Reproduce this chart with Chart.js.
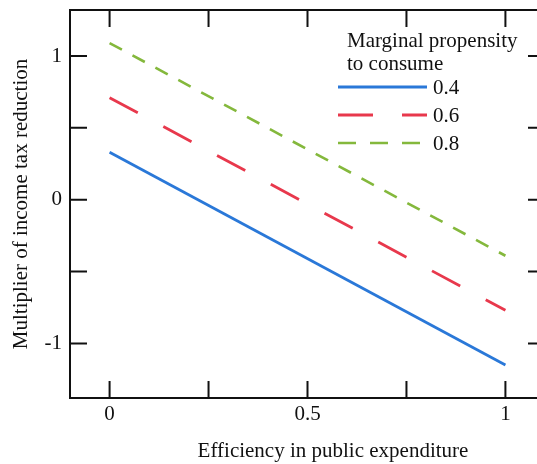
<!DOCTYPE html>
<html>
<head>
<meta charset="utf-8">
<script src="https://cdn.jsdelivr.net/npm/chart.js@4"></script>
<style>
  body { margin: 0; background: #fff; overflow: hidden; }
</style>
</head>
<body>
<canvas id="chart" width="560" height="464"></canvas>
<script>
const efficiency = [0, 1];
const mpc04 = [0.33, -1.15];
const mpc06 = [0.71, -0.77];
const mpc08 = [1.09, -0.39];
const seriesNames = ["0.4", "0.6", "0.8"];

const xTicks = [0, 0.25, 0.5, 0.75, 1];
const xTickLabels = ["0", "0.5", "1"];
const yTicks = [-1, -0.5, 0, 0.5, 1];
const yTickLabels = ["-1", "0", "1"];

const serif = "'Liberation Serif', 'Times New Roman', serif";
const fontSize = 21;

const toPoints = (ys) => efficiency.map((x, i) => ({ x: x, y: ys[i] }));

// frame with inward ticks on all four sides
const framePlugin = {
  id: "frame",
  afterDraw(chart) {
    const ctx = chart.ctx;
    const a = chart.chartArea;
    const xs = chart.scales.x;
    const ys = chart.scales.y;
    const len = 17;
    ctx.save();
    ctx.strokeStyle = "#111";
    ctx.lineWidth = 2;
    ctx.strokeRect(a.left, a.top, a.right - a.left, a.bottom - a.top);
    ctx.beginPath();
    xTicks.forEach((v) => {
      const px = xs.getPixelForValue(v);
      ctx.moveTo(px, a.bottom);
      ctx.lineTo(px, a.bottom - len);
      ctx.moveTo(px, a.top);
      ctx.lineTo(px, a.top + len);
    });
    yTicks.forEach((v) => {
      const py = ys.getPixelForValue(v);
      ctx.moveTo(a.left, py);
      ctx.lineTo(a.left + len, py);
      ctx.moveTo(a.right, py);
      ctx.lineTo(a.right - len, py);
    });
    ctx.stroke();

    // x axis title
    ctx.fillStyle = "#111";
    ctx.font = fontSize + "px " + serif;
    ctx.textAlign = "center";
    ctx.textBaseline = "middle";
    ctx.fillText("Efficiency in public expenditure", 333, 451);
    ctx.restore();
  },
};

// legend in the upper right
const legendPlugin = {
  id: "boxLegend",
  afterDatasetsDraw(chart) {
    const ctx = chart.ctx;
    ctx.save();
    ctx.fillStyle = "#111";
    ctx.font = fontSize + "px " + serif;
    ctx.textAlign = "left";
    ctx.textBaseline = "middle";
    ctx.fillText("Marginal propensity", 347, 41);
    ctx.fillText("to consume", 347, 64);
    const rows = [87, 115, 143];
    chart.data.datasets.forEach((ds, i) => {
      ctx.strokeStyle = ds.borderColor;
      ctx.lineWidth = ds.borderWidth;
      ctx.setLineDash(ds.legendDash || []);
      ctx.beginPath();
      ctx.moveTo(338, rows[i]);
      ctx.lineTo(427, rows[i]);
      ctx.stroke();
      ctx.setLineDash([]);
      ctx.fillText(seriesNames[i], 433, rows[i] + 1);
    });
    ctx.restore();
  },
};

const myChart = new Chart("chart", {
  type: "line",
  data: {
    datasets: [
      {
        label: seriesNames[0],
        data: toPoints(mpc04),
        borderColor: "#2a78d8",
        borderWidth: 2.8,
        pointRadius: 0,
      },
      {
        label: seriesNames[1],
        data: toPoints(mpc06),
        borderColor: "#e8384c",
        borderWidth: 2.8,
        borderDash: [32, 29],
        legendDash: [35, 29],
        pointRadius: 0,
      },
      {
        label: seriesNames[2],
        data: toPoints(mpc08),
        borderColor: "#84b83c",
        borderWidth: 2.6,
        borderDash: [14, 12],
        legendDash: [18, 14],
        pointRadius: 0,
      },
    ],
  },
  options: {
    responsive: false,
    animation: false,
    layout: {
      padding: { top: 10, right: 15, left: 0, bottom: 0 },
    },
    scales: {
      x: {
        type: "linear",
        min: -0.1,
        max: 1.1,
        afterBuildTicks: (scale) => {
          scale.ticks = xTicks.map((v) => ({ value: v }));
        },
        afterFit: (scale) => {
          scale.height = 66;
          scale.paddingLeft = 0;
          scale.paddingRight = 0;
        },
        grid: { display: false, drawTicks: false },
        border: { display: false },
        ticks: {
          padding: 4,
          color: "#111",
          font: { family: serif, size: fontSize },
          autoSkip: false,
          maxRotation: 0,
          callback: (v) => (xTickLabels.includes(String(v)) ? String(v) : ""),
        },
      },
      y: {
        min: -1.38,
        max: 1.32,
        afterBuildTicks: (scale) => {
          scale.ticks = yTicks.map((v) => ({ value: v }));
        },
        afterFit: (scale) => {
          scale.width = 70;
          scale.paddingTop = 0;
          scale.paddingBottom = 0;
        },
        grid: { display: false, drawTicks: false },
        border: { display: false },
        title: {
          display: true,
          text: "Multiplier of income tax reduction",
          color: "#111",
          font: { family: serif, size: fontSize },
          padding: { top: 9, bottom: 0 },
        },
        ticks: {
          padding: 8,
          color: "#111",
          font: { family: serif, size: fontSize },
          autoSkip: false,
          callback: (v) => (yTickLabels.includes(String(v)) ? String(v) : ""),
        },
      },
    },
    plugins: {
      legend: { display: false },
      tooltip: { enabled: false },
    },
  },
  plugins: [framePlugin, legendPlugin],
});
</script>
</body>
</html>
